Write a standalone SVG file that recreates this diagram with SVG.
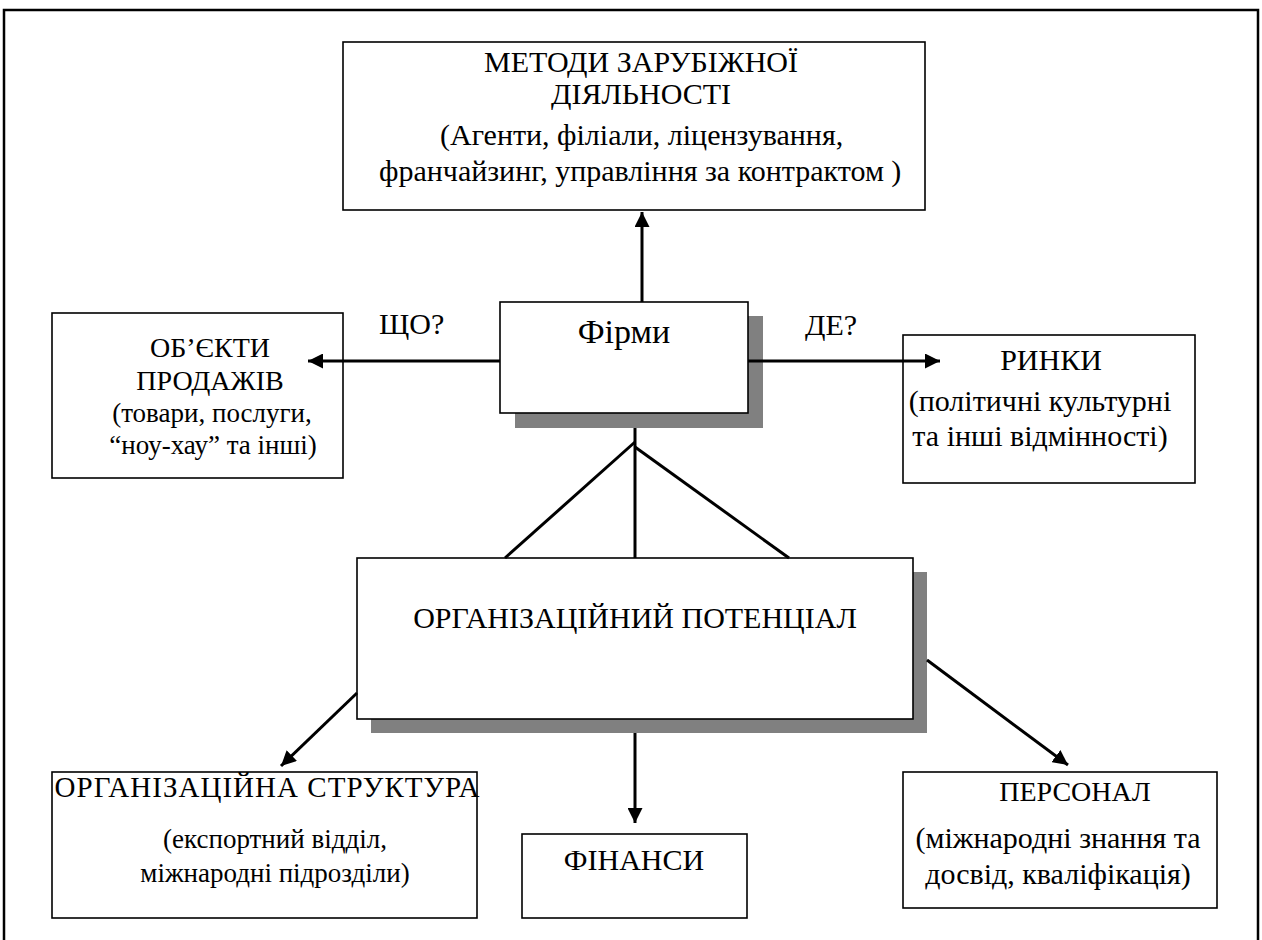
<svg xmlns="http://www.w3.org/2000/svg" width="1262" height="940" viewBox="0 0 1262 940">
  <defs>
    <style>
      .box { fill: #ffffff; stroke: #000000; stroke-width: 1.6; }
      .shadow { fill: #808080; stroke: none; }
      .t { font-family: 'Liberation Serif', 'Times New Roman', serif; font-size: 28px; fill: #000000; }
      .c { text-anchor: middle; }
      .link { stroke: #000000; stroke-width: 3; fill: none; }
    </style>
    <marker id="arrow" viewBox="0 0 10 10" refX="10" refY="5" markerWidth="5" markerHeight="5" markerUnits="strokeWidth" orient="auto">
      <path d="M0,0 L10,5 L0,10 z" fill="#000000"/>
    </marker>
  </defs>

  <rect width="1262" height="940" fill="#ffffff"/>

  <!-- outer frame, open at the bottom -->
  <path d="M4,940 L4,10 L1258,10 L1258,940" fill="none" stroke="#000000" stroke-width="2.5"/>

  <g id="methods">
    <rect class="box" x="343" y="42" width="582" height="168"/>
    <text class="t c" x="641" y="72" style="font-size:30px">МЕТОДИ ЗАРУБІЖНОЇ</text>
    <text class="t c" x="641" y="104" style="font-size:30px">ДІЯЛЬНОСТІ</text>
    <text class="t" x="440" y="145" style="font-size:30px">(Агенти, філіали, ліцензування,</text>
    <text class="t" x="379" y="181" style="font-size:30px">франчайзинг, управління за контрактом )</text>
  </g>

  <g id="firms">
    <rect class="shadow" x="515" y="316" width="248" height="112"/>
    <rect class="box" x="500" y="302" width="248" height="111"/>
    <text class="t c" x="624" y="343" style="font-size:34px">Фірми</text>
  </g>

  <g id="objects">
    <rect class="box" x="52" y="313" width="291" height="165"/>
    <text class="t c" x="210" y="357">ОБ’ЄКТИ</text>
    <text class="t c" x="210" y="390">ПРОДАЖІВ</text>
    <text class="t c" x="212" y="422" style="font-size:27px">(товари, послуги,</text>
    <text class="t c" x="213" y="454" style="font-size:27px">“ноу-хау” та інші)</text>
  </g>

  <g id="markets">
    <rect class="box" x="903" y="335" width="292" height="148"/>
    <text class="t c" x="1051" y="370" style="font-size:30px">РИНКИ</text>
    <text class="t c" x="1040" y="411" style="font-size:30px">(політичні культурні</text>
    <text class="t c" x="1040" y="446" style="font-size:30px">та інші відмінності)</text>
  </g>

  <g id="potential">
    <rect class="shadow" x="371" y="572" width="556" height="161"/>
    <rect class="box" x="357" y="558" width="556" height="161"/>
    <text class="t c" x="635" y="628" style="font-size:30px">ОРГАНІЗАЦІЙНИЙ ПОТЕНЦІАЛ</text>
  </g>

  <g id="structure">
    <rect class="box" x="52" y="772" width="425" height="146"/>
    <text class="t c" x="267" y="797" style="font-size:29px" textLength="425" lengthAdjust="spacing">ОРГАНІЗАЦІЙНА СТРУКТУРА</text>
    <text class="t c" x="275" y="848" style="font-size:27px">(експортний відділ,</text>
    <text class="t c" x="275" y="882" style="font-size:27px">міжнародні підрозділи)</text>
  </g>

  <g id="finance">
    <rect class="box" x="522" y="834" width="225" height="84"/>
    <text class="t c" x="634" y="870" style="font-size:30px">ФІНАНСИ</text>
  </g>

  <g id="staff">
    <rect class="box" x="903" y="772" width="314" height="136"/>
    <text class="t c" x="1075" y="801">ПЕРСОНАЛ</text>
    <text class="t c" x="1058" y="848" style="font-size:30px">(міжнародні знання та</text>
    <text class="t c" x="1058" y="884" style="font-size:30px">досвід, кваліфікація)</text>
  </g>

  <g id="connectors">
    <line class="link" x1="642" y1="302" x2="642" y2="212" marker-end="url(#arrow)"/>
    <line class="link" x1="500" y1="361" x2="308" y2="361" marker-end="url(#arrow)"/>
    <line class="link" x1="748" y1="361" x2="940" y2="361" marker-end="url(#arrow)"/>
    <line class="link" x1="635" y1="428" x2="635" y2="558"/>
    <line class="link" x1="635" y1="442" x2="505" y2="558"/>
    <line class="link" x1="635" y1="447" x2="789" y2="558"/>
    <line class="link" x1="357" y1="693" x2="281" y2="766" marker-end="url(#arrow)"/>
    <line class="link" x1="635" y1="733" x2="635" y2="823" marker-end="url(#arrow)"/>
    <line class="link" x1="927" y1="660" x2="1068" y2="765" marker-end="url(#arrow)"/>
    <text class="t" x="379" y="334" style="font-size:30px">ЩО?</text>
    <text class="t" x="805" y="335" style="font-size:30px">ДЕ?</text>
  </g>
</svg>
